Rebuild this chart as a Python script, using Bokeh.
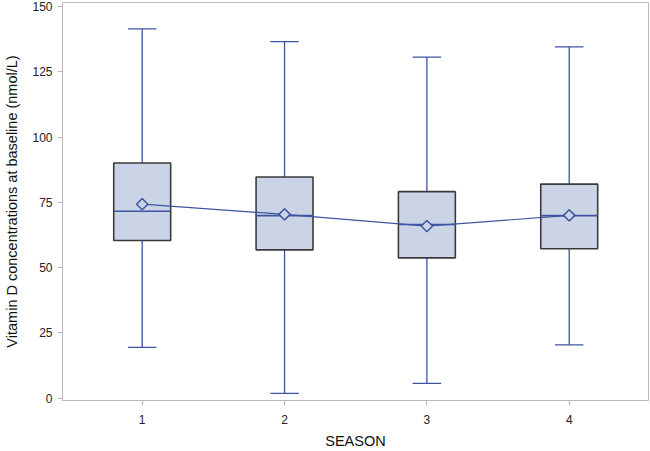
import math
from bokeh.plotting import figure
from bokeh.models import ColumnDataSource, FixedTicker, Range1d
from bokeh.embed import file_html
from bokeh.resources import INLINE

season = [1, 2, 3, 4]
season_labels = ["1", "2", "3", "4"]
whisker_hi = [141.5, 136.6, 130.7, 134.6]
q3 = [90.1, 84.7, 79.1, 82.0]
median = [71.6, 69.9, 66.5, 69.9]
mean = [74.3, 70.4, 65.9, 70.0]
q1 = [60.4, 56.8, 53.7, 57.2]
whisker_lo = [19.4, 1.8, 5.6, 20.4]
y_ticks = [0, 25, 50, 75, 100, 125, 150]

BOX_W = 0.4
CAP_W = 0.2
BLUE = "#3d55a0"
FILL = "#cbd4e6"
GRAY = "#b8b8b8"
FONT = "Liberation Sans"

src = ColumnDataSource(dict(
    x=season,
    xl=[s - BOX_W / 2 for s in season],
    xr=[s + BOX_W / 2 for s in season],
    cl=[s - CAP_W / 2 for s in season],
    cr=[s + CAP_W / 2 for s in season],
    hi=whisker_hi, q3=q3, med=median, mean=mean, q1=q1, lo=whisker_lo,
))

p = figure(width=650, height=451, output_backend="svg", toolbar_location=None,
           x_range=Range1d(0.44, 4.557), y_range=Range1d(-0.95, 151.6),
           min_border_left=62, min_border_right=2, min_border_top=2, min_border_bottom=0)

p.xgrid.visible = False
p.ygrid.visible = False
p.outline_line_color = GRAY
p.outline_line_width = 1
p.background_fill_color = "white"
p.border_fill_color = "white"

# whiskers
p.segment(x0="x", y0="q3", x1="x", y1="hi", source=src, line_color=BLUE, line_width=1.3)
p.segment(x0="x", y0="lo", x1="x", y1="q1", source=src, line_color=BLUE, line_width=1.3)
p.segment(x0="cl", y0="hi", x1="cr", y1="hi", source=src, line_color=BLUE, line_width=1.3)
p.segment(x0="cl", y0="lo", x1="cr", y1="lo", source=src, line_color=BLUE, line_width=1.3)

# boxes
p.vbar(x="x", width=BOX_W, top="q3", bottom="q1", source=src,
       fill_color=FILL, line_color="#3a3a3a", line_width=1.6)

# median
p.segment(x0="xl", y0="med", x1="xr", y1="med", source=src, line_color=BLUE, line_width=1.6)

# mean connect line
p.line(x="x", y="mean", source=src, line_color=BLUE, line_width=1.2)

# mean diamond
p.scatter(x="x", y="mean", source=src, marker="square", size=8, angle=math.pi / 4,
          fill_color=FILL, line_color=BLUE, line_width=1.5)

p.xaxis.ticker = FixedTicker(ticks=season)
p.xaxis.major_label_overrides = {s: l for s, l in zip(season, season_labels)}
p.yaxis.ticker = FixedTicker(ticks=y_ticks)
p.xaxis.minor_tick_line_color = None
p.yaxis.minor_tick_line_color = None

for ax in (p.xaxis[0], p.yaxis[0]):
    ax.axis_line_color = GRAY
    ax.major_tick_line_color = GRAY
    ax.major_tick_out = 5
    ax.major_tick_in = 0
    ax.major_label_text_font = FONT
    ax.major_label_text_font_size = "12px"
    ax.major_label_text_color = "#222222"
    ax.axis_label_text_font = FONT
    ax.axis_label_text_font_size = "14.5px"
    ax.axis_label_text_font_style = "normal"
    ax.axis_label_text_color = "#111111"

p.xaxis.axis_label = "SEASON"
p.yaxis.axis_label = "Vitamin D concentrations at baseline (nmol/L)"
p.xaxis.major_label_standoff = 9
p.xaxis.axis_label_standoff = 6
p.yaxis.major_label_standoff = 5
p.yaxis.axis_label_standoff = 9

open("out.html", "w").write(file_html(p, INLINE))
